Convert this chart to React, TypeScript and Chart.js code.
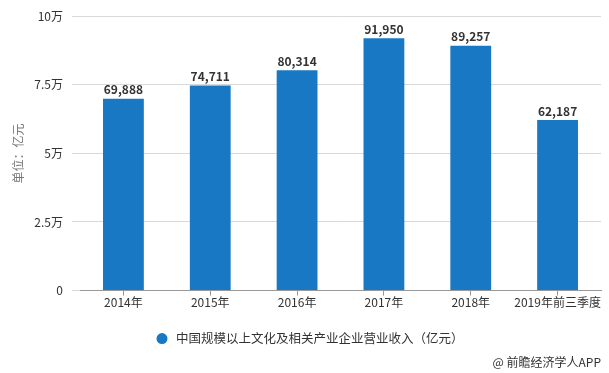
import React, { useEffect, useRef } from "react";
import { Chart, registerables } from "chart.js";

Chart.register(...registerables);

const categories = ["2014年", "2015年", "2016年", "2017年", "2018年", "2019年前三季度"];
const revenue = [69888, 74711, 80314, 91950, 89257, 62187];
const seriesName = "中国规模以上文化及相关产业企业营业收入（亿元）";
const yTitle = "单位：亿元";
const sourceText = "@ 前瞻经济学人APP";

const FONT = "'Noto Sans CJK SC', 'Microsoft YaHei', sans-serif";
const BAR = "#1878c3";

export default function App() {
  const ref = useRef<HTMLCanvasElement | null>(null);
  useEffect(() => {
    document.body.style.margin = "0";
    if (!ref.current) return;
    const labelsPlugin = {
      id: "labels",
      afterDatasetsDraw(chart: any) {
        const ctx = chart.ctx;
        const meta = chart.getDatasetMeta(0);
        ctx.save();
        ctx.font = `bold 12px ${FONT}`;
        ctx.fillStyle = "#333";
        ctx.textAlign = "center";
        ctx.textBaseline = "bottom";
        meta.data.forEach((el: any, i: number) => {
          ctx.fillText(revenue[i].toLocaleString("en-US"), el.x, el.y - 3);
        });
        // legend
        const ly = chart.chartArea.bottom + 48;
        ctx.fillStyle = BAR;
        ctx.beginPath();
        ctx.arc(162, ly, 5.5, 0, Math.PI * 2);
        ctx.fill();
        ctx.font = `12.5px ${FONT}`;
        ctx.fillStyle = "#333";
        ctx.textAlign = "left";
        ctx.textBaseline = "middle";
        ctx.fillText(seriesName, 176, ly);
        // source
        ctx.font = `12px ${FONT}`;
        ctx.textAlign = "right";
        ctx.fillText(sourceText, chart.width - 8, 362);
        ctx.restore();
      },
    };
    const chart = new Chart(ref.current, {
      type: "bar",
      data: {
        labels: categories,
        datasets: [
          {
            label: seriesName,
            data: revenue,
            backgroundColor: BAR,
            borderWidth: 0,
            categoryPercentage: 1,
            barPercentage: 0.47,
          },
        ],
      },
      options: {
        animation: false,
        responsive: false,
        maintainAspectRatio: false,
        layout: { padding: { top: 1, right: 8, bottom: 63, left: 0 } },
        plugins: {
          tooltip: { enabled: false },
          legend: { display: false },
        },
        scales: {
          x: {
            grid: {
              display: true,
              drawOnChartArea: false,
              offset: false,
              tickLength: 5,
              color: "#999",
            },
            border: { color: "#999" },
            ticks: {
              color: "#333",
              font: { family: FONT, size: 12 },
              padding: 0,
              maxRotation: 0,
              autoSkip: false,
            },
          },
          y: {
            min: 0,
            max: 100000,
            grid: { color: "#d9d9d9", tickLength: 8 },
            border: { display: false },
            ticks: {
              stepSize: 25000,
              color: "#333",
              font: { family: FONT, size: 12 },
              padding: 9,
              callback: (v: any) => (v === 0 ? "0" : `${Number(v) / 10000}万`),
            },
            title: {
              display: true,
              text: yTitle,
              color: "#777",
              font: { family: FONT, size: 12 },
              padding: { top: 11, bottom: 0 },
            },
            afterFit: (s: any) => {
              s.width = 80;
            },
          },
        },
      },
      plugins: [labelsPlugin],
    } as any);
    return () => chart.destroy();
  }, []);
  return (
    <div style={{ width: 609, height: 373 }}>
      <canvas ref={ref} width={609} height={373} style={{ display: "block" }} />
    </div>
  );
}
